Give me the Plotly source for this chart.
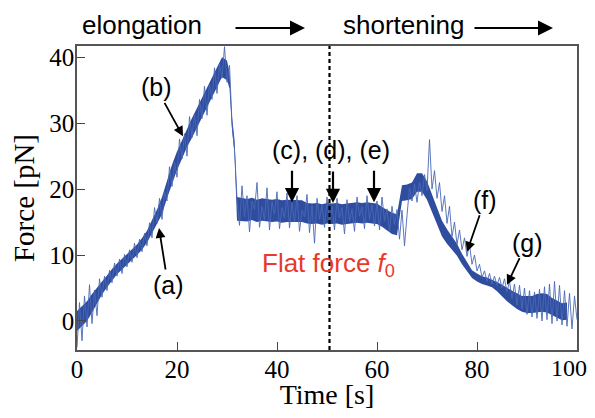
import plotly.graph_objects as go

# ---- data ----
sample_step = 0.5  # s
force_trace = [
    -4.0, 2.8, -3.0, 3.8, -0.9, 5.5, -0.4, 4.7, 0.8, 6.4,
    3.6, 6.8, 4.6, 7.7, 5.8, 8.8, 6.8, 9.4, 7.2, 10.1,
    8.2, 10.8, 8.9, 11.8, 9.6, 12.4, 10.5, 13.3, 11.4, 14.9,
    12.6, 17.2, 14.8, 18.6, 15.4, 19.6, 18.2, 23.4, 20.4, 24.1,
    21.8, 27.6, 24.6, 28.4, 25.0, 31.0, 27.8, 31.5, 28.1, 33.6,
    30.7, 35.6, 31.2, 35.9, 33.6, 38.4, 34.5, 39.0, 36.8, 41.6,
    36.2, 38.8, 30.0, 26.0, 18.5,
    14.5, 20.5, 15.8, 19.0, 13.5, 18.2, 16.9, 21.0, 14.2, 17.4,
    15.3, 20.2, 13.8, 18.1, 16.2, 19.6, 14.0, 17.2, 15.6, 19.4,
    14.1, 17.9, 15.0, 19.0, 13.6, 16.8, 15.8, 19.2, 13.4, 17.5,
    11.8, 18.6, 15.4, 17.6, 14.2, 18.8, 14.9, 17.4, 13.8, 18.6,
    15.6, 17.2, 13.2, 18.4, 15.1, 17.0, 13.6, 18.8, 15.9, 17.3,
    14.0, 19.0, 15.4, 17.6, 14.4, 18.2, 13.8, 18.8, 15.2, 17.0,
    13.6, 17.4, 14.6, 16.9, 12.4, 16.8, 11.4, 16.0,
    20.2, 18.2, 20.8, 18.0, 21.0, 19.0, 22.2, 19.8, 27.5, 20.0,
    22.8, 18.6, 21.0, 16.6, 19.0, 14.8, 17.4, 12.8, 15.0, 11.6,
    13.8, 10.8, 12.6, 9.8, 11.6, 8.6, 10.0, 7.6, 8.6, 6.6,
    7.6, 6.0, 7.2, 5.6, 6.8, 5.4, 6.6, 5.0, 6.4, 4.4,
    6.0, 3.4, 5.6, 2.4, 5.4, 1.8, 5.0, 1.0, 4.6, 0.6,
    4.4, 0.4, 4.8, 0.0, 5.2, 0.2, 5.6, -0.4, 6.0, 0.0,
    5.4, -0.6, 4.6, -0.8, 4.2, -1.2, 3.8, 0.2,
]
time_trace = [i * sample_step for i in range(len(force_trace))]

band_time = list(range(0, 31)) + [30.5, 31, 31.5] + list(range(32, 67)) + [66.5] + list(range(67, 101))
band_low = [
    -1.5, -0.7, 0.0, 1.3, 2.7, 4.0, 5.1, 6.1, 7.1, 7.8,
    8.5, 9.2, 10.0, 10.8, 11.9, 13.3, 14.7, 16.2, 18.6, 20.9,
    22.9, 24.6, 26.4, 27.8, 29.3, 30.8, 32.3, 33.8, 35.5, 37.0,
    36.5, 35.3, 29.0, 25.5,
    15.2, 15.2, 15.1, 15.3, 15.0, 15.2, 15.1, 15.0, 15.1, 14.9,
    15.0, 15.0, 14.9, 15.0, 14.8, 14.7, 14.8, 14.6, 14.8, 14.7,
    14.8, 14.6, 14.7, 14.8, 14.9, 14.8, 14.9, 14.8, 14.7, 14.3,
    13.8, 13.2, 13.0,
    18.2,
    18.3, 18.4, 18.5, 19.6, 19.6, 18.4, 16.5, 14.7, 12.8, 11.7,
    10.8, 9.9, 8.6, 7.5, 6.5, 6.0, 5.6, 5.4, 5.1, 4.5,
    3.7, 3.0, 2.4, 1.8, 1.4, 1.2, 1.2, 1.3, 1.4, 1.3,
    0.9, 0.5, 0.1, 0.2,
]
band_high = [
    1.5, 2.3, 3.0, 4.1, 5.1, 6.0, 6.9, 7.9, 8.7, 9.4,
    10.1, 10.8, 11.6, 12.6, 13.7, 15.3, 16.9, 18.8, 21.4, 23.7,
    25.7, 27.4, 29.2, 30.8, 32.3, 33.8, 35.3, 36.8, 38.5, 40.0,
    39.5, 37.7, 31.0, 27.5,
    18.8, 18.6, 18.5, 18.7, 18.4, 18.6, 18.5, 18.4, 18.5, 18.3,
    18.4, 18.4, 18.3, 18.3, 17.9, 17.8, 17.9, 17.7, 17.9, 17.8,
    17.9, 17.7, 17.8, 17.9, 18.0, 17.9, 18.0, 17.9, 17.8, 17.3,
    16.8, 16.4, 16.2,
    20.6,
    20.7, 20.8, 21.0, 22.4, 22.4, 21.2, 19.1, 17.3, 15.2, 13.9,
    12.8, 11.7, 10.2, 8.9, 7.7, 7.2, 6.8, 6.6, 6.3, 5.9,
    5.5, 5.0, 4.6, 4.2, 3.8, 3.8, 3.8, 4.1, 4.2, 4.1,
    3.5, 3.1, 2.7, 2.8,
]

dashed_time = 50.5
x_ticks = [0, 20, 40, 60, 80, 100]
# the label of the last tick is drawn as an annotation, nudged left to stay in the window
x_tick_labels = ["0", "20", "40", "60", "80", ""]
last_tick_label = "100"
y_ticks = [0, 10, 20, 30, 40]

# arrow labels: (text, tip time, tip force, tail offset x px, tail offset y px)
point_labels = [
    ("(a)", 16.4, 14.1, 9, 57),
    ("(b)", 21.2, 28.0, -27, -49),
    ("(f)", 78.0, 10.5, 18, -52),
    ("(g)", 86.0, 5.5, 20, -42),
]
flat_arrows = [(43.0, 18.0), (51.2, 17.9), (59.4, 18.0)]

SANS = "Liberation Sans, Arial, sans-serif"
SERIF = "Liberation Serif, Times New Roman, serif"
BLUE = "#2f4d9f"
BLUE_LIGHT = "#4a68b4"

# The page body has an 8px margin, so the figure is drawn smaller and shifted
# so that the plot area lands at window pixels x 77..577, y 46..350.
OFF = 8
FW, FH = 595 - OFF, 418 - 2 * OFF
L, R, T = 77 - OFF, 18, 46 - OFF
B = FH - (350 - OFF)
PW, PH = FW - L - R, FH - T - B


def px(x):
    return (x - OFF - L) / PW


def py(y):
    return (FH - B - (y - OFF)) / PH


fig = go.Figure()
fig.add_trace(go.Scatter(x=band_time, y=band_low, mode="lines",
                         line=dict(width=0, color=BLUE), hoverinfo="skip"))
fig.add_trace(go.Scatter(x=band_time, y=band_high, mode="lines", fill="tonexty",
                         fillcolor=BLUE, line=dict(width=0, color=BLUE), hoverinfo="skip"))
fig.add_trace(go.Scatter(x=time_trace, y=force_trace, mode="lines",
                         line=dict(width=0.9, color=BLUE_LIGHT)))

fig.add_shape(type="line", x0=dashed_time, x1=dashed_time, xref="x",
              y0=0, y1=1, yref="paper",
              line=dict(color="black", width=2.2, dash="4px,3px"))

annotations = []
for text, tx, ty, ax, ay in point_labels:
    annotations.append(dict(x=tx, y=ty, xref="x", yref="y", text=text, ax=ax, ay=ay,
                            showarrow=True, arrowhead=2, arrowsize=1.1, arrowwidth=1.8,
                            arrowcolor="black", font=dict(family=SANS, size=25, color="black")))
for tx, ty in flat_arrows:
    annotations.append(dict(x=tx, y=ty, xref="x", yref="y", text="", ax=0, ay=-33,
                            showarrow=True, arrowhead=2, arrowsize=1.3, arrowwidth=2.2,
                            arrowcolor="black"))
annotations.append(dict(x=px(331), y=py(150), xref="paper", yref="paper",
                        xanchor="center", yanchor="middle",
                        text="(c), (d), (e)", showarrow=False,
                        font=dict(family=SANS, size=25, color="black")))
annotations.append(dict(x=50.2, y=8.5, xref="x", yref="y", xanchor="center", yanchor="middle",
                        text="Flat force <i>f</i><sub>0</sub>", showarrow=False,
                        font=dict(family=SANS, size=26, color="#e8392b")))
annotations.append(dict(x=px(569), y=py(368), xref="paper", yref="paper",
                        xanchor="center", yanchor="middle",
                        text=last_tick_label, showarrow=False,
                        font=dict(family=SERIF, size=24, color="black")))
# header
annotations.append(dict(x=px(142), y=py(25), xref="paper", yref="paper",
                        xanchor="center", yanchor="middle",
                        text="elongation", showarrow=False,
                        font=dict(family=SANS, size=26, color="black")))
annotations.append(dict(x=px(403), y=py(25), xref="paper", yref="paper",
                        xanchor="center", yanchor="middle",
                        text="shortening", showarrow=False,
                        font=dict(family=SANS, size=26, color="black")))
annotations.append(dict(x=px(305), y=py(28), xref="paper", yref="paper",
                        text="", ax=-71, ay=0, showarrow=True, arrowhead=2, arrowsize=1.5,
                        arrowwidth=2, arrowcolor="black"))
annotations.append(dict(x=px(553), y=py(28), xref="paper", yref="paper",
                        text="", ax=-80, ay=0, showarrow=True, arrowhead=2, arrowsize=1.5,
                        arrowwidth=2, arrowcolor="black"))

fig.update_layout(
    width=FW, height=FH,
    margin=dict(l=L, r=R, t=T, b=B, autoexpand=False),
    plot_bgcolor="white", paper_bgcolor="white",
    showlegend=False,
    annotations=annotations,
)
axis_common = dict(ticks="inside", ticklen=8, tickcolor="#444", tickwidth=1,
                   showline=True, linecolor="#555", linewidth=1.5, mirror=True,
                   showgrid=False, zeroline=False, automargin=False,
                   ticklabeloverflow="allow", ticklabelstandoff=-4,
                   tickfont=dict(family=SERIF, size=25, color="black"))
fig.update_xaxes(range=[0, 100], tickvals=x_ticks, ticktext=x_tick_labels, **axis_common,
                 title=dict(text="Time [s]", font=dict(family=SERIF, size=28, color="black"),
                            standoff=2))
fig.update_yaxes(range=[-4.4, 41.7], tickvals=y_ticks, **axis_common,
                 title=dict(text="Force [pN]", font=dict(family=SERIF, size=29, color="black"),
                            standoff=10))

fig.write_html("out.html")
